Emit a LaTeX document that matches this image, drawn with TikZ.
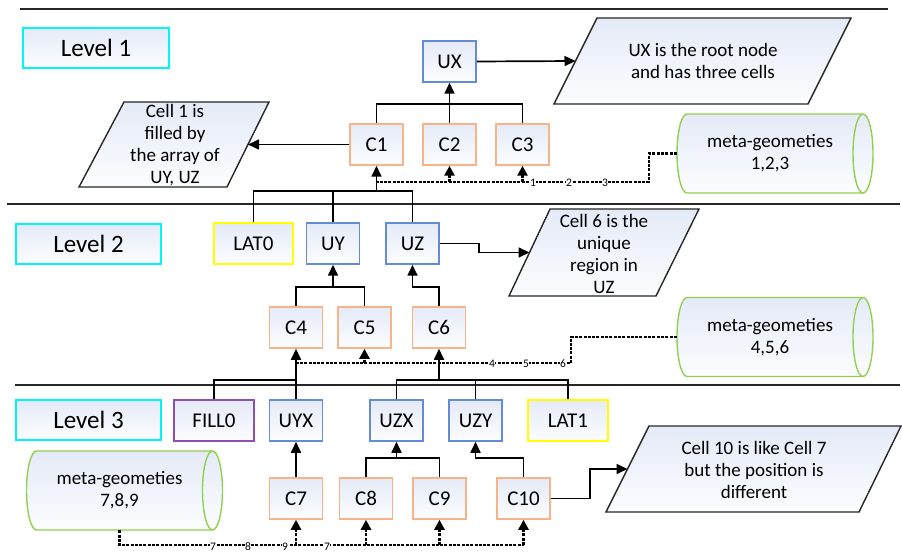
\documentclass[tikz,border=0pt]{standalone}
\usepackage{fontspec}
\setmainfont{Carlito}
\usetikzlibrary{arrows.meta,calc}
\definecolor{gfill}{RGB}{228,234,247}
\definecolor{gbot}{RGB}{252,253,255}
\definecolor{cellc}{RGB}{246,180,136}
\definecolor{unitc}{RGB}{100,140,212}
\definecolor{latc}{RGB}{255,255,0}
\definecolor{fillc}{RGB}{140,80,180}
\definecolor{levc}{RGB}{0,245,245}
\definecolor{metac}{RGB}{146,208,80}
\tikzset{
 grad/.style={top color=gfill, bottom color=gbot},
 bx/.style={grad, draw, line width=1.5pt, minimum height=41pt, inner sep=0pt, font=\fontsize{21}{24}\selectfont},
 cell/.style={bx, draw=cellc, minimum width=53pt},
 unit/.style={bx, draw=unitc, minimum width=53pt},
 lat/.style={bx, draw=latc, minimum width=79pt},
 fil/.style={bx, draw=fillc, minimum width=80pt},
 lev/.style={bx, draw=levc, minimum width=146pt, minimum height=40pt, font=\fontsize{25}{30}\selectfont},
 conn/.style={line width=1.7pt},
 arr/.style={conn, -{Triangle[length=11pt,width=10pt]}},
 dots/.style={line width=2.6pt, dash pattern=on 3pt off 1.3pt},
 darr/.style={dots, -{Triangle[length=10pt,width=10pt]}},
 desc/.style={align=center, font=\fontsize{19}{22}\selectfont},
 pgr/.style={grad, draw=black!85, line width=1.4pt},
 lbl/.style={font=\fontsize{11.5}{12}\selectfont, inner sep=0.3pt, fill=white},
 divider/.style={line width=1.6pt, draw=black!85},
}
\newcommand\metacyl[4]{%
 \path[grad, draw=metac, line width=1.4pt] (#2-88,#3-39.5) -- (#2+88,#3-39.5)
   arc[start angle=90,end angle=-90,x radius=10pt,y radius=39.5pt] -- (#2-88,#3+39.5)
   arc[start angle=270,end angle=90,x radius=10pt,y radius=39.5pt] -- cycle;
 \draw[metac, line width=1.4pt] (#2+88,#3-39.5) arc[start angle=90,end angle=270,x radius=10pt,y radius=39.5pt];
 \node[desc, minimum width=186pt, minimum height=79pt, inner sep=0pt] (#1) at (#2-5,#3) {#4};
}
\begin{document}
\begin{tikzpicture}[x=1pt,y=-1pt]
\useasboundingbox (0,0) rectangle (902,553);
% dividers
\draw[divider] (20,9) -- (888,9);
\draw[divider] (7,204) -- (900,204);
\draw[divider] (15,385) -- (900,385);
% level labels
\node[lev] (lv1) at (96,48) {Level 1};
\node[lev, minimum width=145pt] (lv2) at (88.5,244) {Level 2};
\node[lev, minimum width=145pt] (lv3) at (88.5,420) {Level 3};
% level 1 nodes
\node[unit] (ux) at (449.5,61.5) {UX};
\node[cell] (c1) at (376.5,144.5) {C1};
\node[cell] (c2) at (449.5,144.5) {C2};
\node[cell] (c3) at (522.5,144.5) {C3};
% level 2 nodes
\node[lat] (lat0) at (253.5,243.5) {LAT0};
\node[unit] (uy) at (333,243.5) {UY};
\node[unit] (uz) at (412.5,243.5) {UZ};
\node[cell] (c4) at (296,327.5) {C4};
\node[cell] (c5) at (364.5,327.5) {C5};
\node[cell] (c6) at (439,327.5) {C6};
% level 3 nodes
\node[fil] (fill0) at (214,420.5) {FILL0};
\node[unit] (uyx) at (296,420.5) {UYX};
\node[unit] (uzx) at (396.5,420.5) {UZX};
\node[unit] (uzy) at (475.5,420.5) {UZY};
\node[lat, minimum width=80pt] (lat1) at (568,420.5) {LAT1};
\node[cell] (c7) at (296,498.5) {C7};
\node[cell] (c8) at (366,498.5) {C8};
\node[cell] (c9) at (439.5,498.5) {C9};
\node[cell] (c10) at (523.5,498.5) {C10};
% parallelograms
\path[pgr] (554,104) coordinate (p1bl) -- (597,18) coordinate (p1tl) -- (851,18) -- (808,104) -- cycle;
\coordinate (p1w) at ($(p1bl)!0.5!(p1tl)$);
\node[desc] (p1) at (703,61) {UX is the root node\\and has three cells};
\path[pgr] (79,187) -- (124,102) -- (269,102) coordinate (p2tr) -- (227,187) coordinate (p2br) -- cycle;
\coordinate (p2e) at ($(p2br)!0.5!(p2tr)$);
\node[desc] (p2) at (175,145) {Cell 1 is\\filled by\\the array of\\UY, UZ};
\path[pgr] (509,296) coordinate (p3bl) -- (550,209) coordinate (p3tl) -- (699,209) -- (656,296) -- cycle;
\coordinate (p3w) at ($(p3bl)!0.5!(p3tl)$);
\node[desc] (p3) at (604,253.5) {Cell 6 is the\\unique\\region in\\UZ};
\path[pgr] (606,512) coordinate (p4bl) -- (649,426) coordinate (p4tl) -- (901,426) -- (859,512) -- cycle;
\coordinate (p4w) at ($(p4bl)!0.5!(p4tl)$);
\node[desc] (p4) at (754,469.5) {Cell 10 is like Cell 7\\but the position is\\different};
% cylinders
\metacyl{m1}{775}{153.5}{meta-geometies\\1,2,3}
\metacyl{m2}{775}{337}{meta-geometies\\4,5,6}
\metacyl{m3}{124.5}{490.5}{meta-geometies\\7,8,9}
% level 1 tree
\coordinate (b1) at (449.5,104);
\draw[conn] (c1.north) |- (b1);
\draw[conn] (c3.north) |- (b1);
\draw[arr] (c2.north) -- (ux.south);
\draw[arr] (ux.east) -- (p1w);
\draw[arr] (c1.west) -- (p2e);
% level 2 -> C1
\coordinate (b2) at (376.5,191);
\draw[conn] (lat0.north) |- (b2);
\draw[conn] (uy.north) |- (b2);
\draw[conn] (uz.north) |- (b2);
\draw[arr] (b2) -- (c1.south);
% level 2 tree
\coordinate (b3) at (333,287);
\draw[conn] (c4.north) |- (b3);
\draw[conn] (c5.north) |- (b3);
\draw[arr] (b3) -- (uy.south);
\coordinate (b4) at (412.5,287);
\draw[arr] (c6.north) |- (b4) -- (uz.south);
\draw[arr] (uz.east) -- ++(39,0) |- (p3w);
% level 3 -> C4, C6
\coordinate (b5) at (296,380);
\draw[conn] (fill0.north) |- (b5);
\draw[conn] (uyx.north) -- (b5);
\draw[arr] (b5) -- (c4.south);
\coordinate (b6) at (439,380);
\draw[conn] (uzx.north) |- (b6);
\draw[conn] (uzy.north) |- (b6);
\draw[conn] (lat1.north) |- (b6);
\draw[arr] (b6) -- (c6.south);
% level 3 tree
\draw[arr] (c7.north) -- (uyx.south);
\coordinate (b7) at (396.5,458);
\draw[conn] (c8.north) |- (b7);
\draw[conn] (c9.north) |- (b7);
\draw[arr] (b7) -- (uzx.south);
\coordinate (b8) at (475.5,458);
\draw[arr] (c10.north) |- (b8) -- (uzy.south);
\draw[arr] (c10.east) -- ++(39,0) |- (p4w);
% dotted meta connectors
\coordinate (d1) at (376.5,182);
\draw[dots] (m1.west) -- ++(-28,0) |- (d1);
\draw[darr] (c2.south |- d1) -- (c2.south);
\draw[darr] (c3.south |- d1) -- (c3.south);
\node[lbl] (l1) at (533,183) {1};
\node[lbl] (l2) at (569,183) {2};
\node[lbl] (l3) at (605,183) {3};
\coordinate (d2) at (296,363);
\draw[dots] (m2.west) -- ++(-106,0) |- (d2);
\draw[darr] (c5.south |- d2) -- (c5.south);
\node[lbl] (l4) at (492,364) {4};
\node[lbl] (l5) at (526,364) {5};
\node[lbl] (l6) at (563,364) {6};
\coordinate (d3) at (523.5,545);
\draw[dots] (m3.south) |- (d3);
\draw[darr] (c7.south |- d3) -- (c7.south);
\draw[darr] (c8.south |- d3) -- (c8.south);
\draw[darr] (c9.south |- d3) -- (c9.south);
\draw[darr] (d3) -- (c10.south);
\node[lbl] (l7) at (213,547) {7};
\node[lbl] (l8) at (248,547) {8};
\node[lbl] (l9) at (285,547) {9};
\node[lbl] (l10) at (327,547) {7};
\end{tikzpicture}
\end{document}
